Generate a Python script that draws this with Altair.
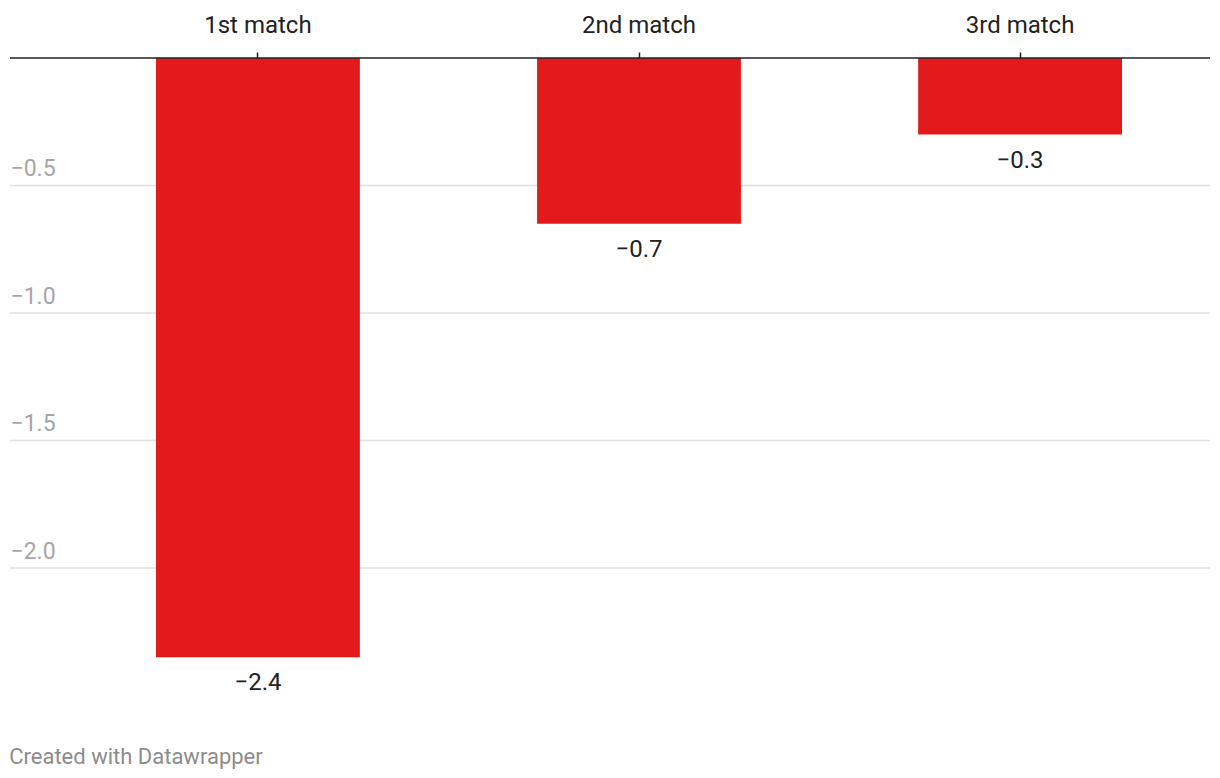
import altair as alt
import pandas as pd

matches = ["1st match", "2nd match", "3rd match"]
values = [-2.35, -0.65, -0.3]
labels = ["\u22122.4", "\u22120.7", "\u22120.3"]
y_ticks = [-0.5, -1.0, -1.5, -2.0]

df = pd.DataFrame({"match": matches, "value": values, "label": labels})
grid_df = pd.DataFrame({"tick": y_ticks})
zero_df = pd.DataFrame({"tick": [0]})

yscale = alt.Scale(domain=[-2.4, 0], nice=False, zero=True)

x = alt.X(
    "match:N",
    sort=matches,
    scale=alt.Scale(range=[146, 1112], paddingInner=0.465, paddingOuter=0),
    axis=alt.Axis(
        orient="top", title=None, labelAngle=0, labelFontSize=24,
        labelColor="#222222", labelFont="Roboto", labelPadding=15,
        tickSize=6, tickColor="#222222", tickWidth=1.5,
        domain=False, grid=False,
    ),
)
y = alt.Y(
    "value:Q",
    scale=yscale,
    axis=alt.Axis(
        title=None, values=y_ticks, format=".1f", orient="left",
        labelAlign="left", labelBaseline="alphabetic", labelPadding=0,
        labelOffset=-10, labelFontSize=23, labelColor="#a6a6a6", labelFont="Roboto",
        ticks=False, domain=False, grid=False, tickSize=0,
    ),
)

grid = alt.Chart(grid_df).mark_rule(color="#e0e0e0", strokeWidth=1.3).encode(
    y=alt.Y("tick:Q", scale=yscale), x=alt.value(0), x2=alt.value(1200)
)
bars = alt.Chart(df).mark_bar(color="#e31a1c").encode(x=x, y=y, y2=alt.datum(0))
zero = alt.Chart(zero_df).mark_rule(color="#222222", strokeWidth=1.6).encode(
    y=alt.Y("tick:Q", scale=yscale), x=alt.value(0), x2=alt.value(1200)
)
text = alt.Chart(df).mark_text(
    baseline="top", dy=14, fontSize=24, font="Roboto", color="#222222"
).encode(x=alt.X("match:N", sort=matches), y="value:Q", text="label:N")

chart = alt.layer(grid, bars, zero, text).properties(
    width=1200, height=612,
    autosize=alt.AutoSizeParams(type="none"),
    padding={"left": 10, "top": 58, "right": 10, "bottom": 108},
    title=alt.TitleParams(
        "Created with Datawrapper", orient="bottom", anchor="start",
        fontSize=22, font="Roboto", fontWeight="normal", color="#8c8c8c", offset=52,
    ),
).configure_view(stroke=None)

chart.save("out.html", embed_options={"renderer": "svg", "actions": False})
